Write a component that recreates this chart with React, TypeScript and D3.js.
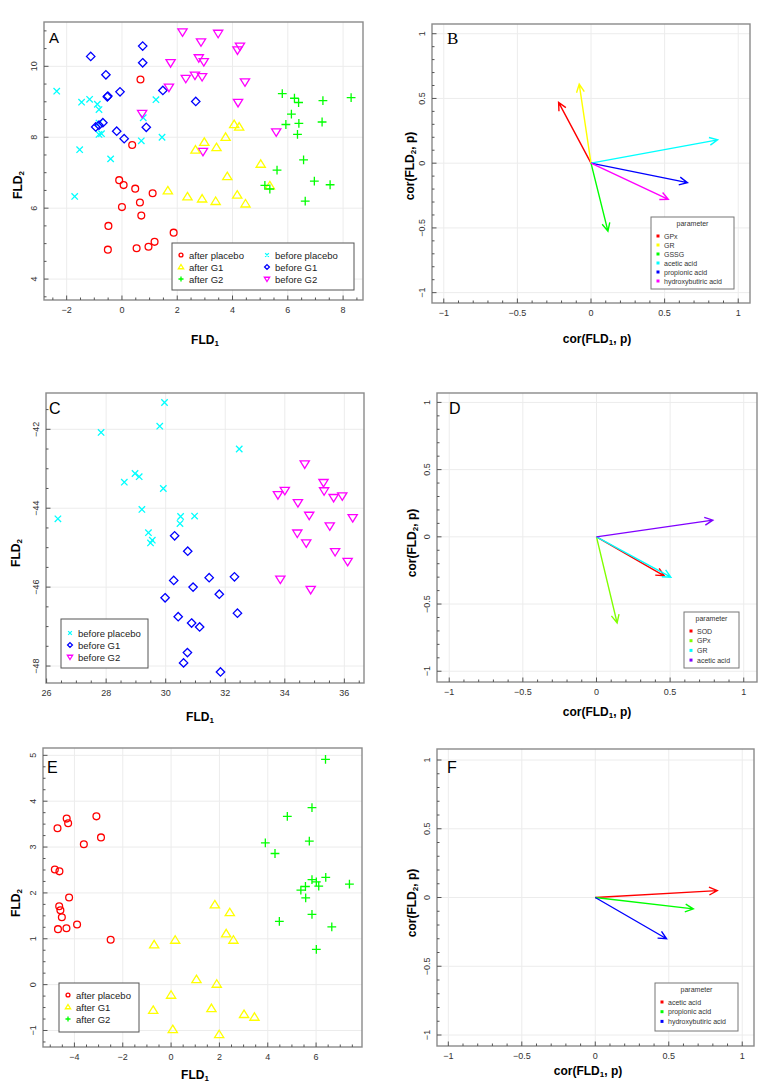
import React from 'react';
import * as d3 from 'd3';

type Pt = [number, number];

// ---- panel A: all six groups ----
const aAfterPlacebo: Pt[] = [
  [0.67, 9.63], [0.37, 7.78], [-0.1, 6.79], [0.06, 6.65], [0.48, 6.55], [1.11, 6.42], [0.65, 6.16],
  [0.0, 6.03], [0.7, 5.79], [-0.49, 5.5], [1.87, 5.31], [1.18, 5.05], [0.96, 4.91], [0.53, 4.87], [-0.51, 4.83],
];
const aAfterG1: Pt[] = [
  [4.06, 8.36], [4.24, 8.29], [3.75, 8.0], [2.98, 7.86], [2.66, 7.64], [3.42, 7.71], [5.02, 7.24], [3.81, 6.89],
  [5.35, 6.63], [1.66, 6.49], [2.37, 6.32], [2.9, 6.26], [3.39, 6.19], [4.17, 6.37], [4.47, 6.12],
];
const aAfterG2: Pt[] = [
  [5.8, 9.23], [6.24, 9.1], [6.39, 8.98], [7.27, 9.03], [8.29, 9.12], [6.13, 8.65], [5.93, 8.36], [6.4, 8.39],
  [7.24, 8.43], [6.35, 8.08], [6.57, 7.36], [5.61, 7.07], [6.96, 6.76], [7.53, 6.66], [5.17, 6.64], [5.35, 6.54], [6.63, 6.2],
];
const aBeforePlacebo: Pt[] = [
  [-2.36, 9.3], [-1.46, 8.99], [-1.17, 9.07], [-0.89, 8.93], [-0.83, 8.78], [-0.83, 8.4], [-0.83, 8.08], [-0.74, 8.1],
  [-1.53, 7.65], [-0.41, 7.39], [-1.71, 6.33], [0.7, 7.9], [1.23, 9.06], [0.77, 8.55], [1.45, 8.0],
];
const aBeforeG1: Pt[] = [
  [-1.13, 10.28], [0.75, 10.57], [0.75, 10.1], [-0.58, 9.76], [-0.53, 9.14], [-0.51, 9.16], [-0.07, 9.28], [1.48, 9.32],
  [2.67, 9.01], [-0.95, 8.29], [-0.83, 8.34], [-0.69, 8.41], [-0.19, 8.17], [0.08, 7.96], [0.88, 8.28],
];
const aBeforeG2: Pt[] = [
  [2.19, 10.97], [3.48, 10.93], [2.86, 10.69], [4.27, 10.57], [4.18, 10.46], [1.76, 10.1], [2.78, 10.24], [2.96, 10.13],
  [2.31, 9.66], [2.64, 9.75], [2.9, 9.71], [4.45, 9.56], [1.7, 9.41], [4.2, 8.98], [0.73, 8.67], [5.58, 8.15], [2.93, 7.6],
];

// ---- panel C: before groups ----
const cBeforePlacebo: Pt[] = [
  [29.96, -41.32], [27.83, -42.08], [29.8, -41.92], [32.47, -42.5], [28.97, -43.12], [29.11, -43.2], [28.61, -43.34],
  [29.92, -43.5], [29.2, -44.03], [26.38, -44.27], [30.5, -44.21], [30.97, -44.2], [30.48, -44.39], [29.42, -44.62],
  [29.55, -44.81], [29.49, -44.88],
];
const cBeforeG1: Pt[] = [
  [30.3, -44.7], [30.74, -45.09], [30.27, -45.83], [31.46, -45.76], [32.31, -45.74], [30.92, -46.0], [31.8, -46.18],
  [29.98, -46.27], [30.42, -46.75], [30.87, -46.91], [31.14, -47.01], [32.41, -46.66], [30.73, -47.66], [30.6, -47.92], [31.84, -48.15],
];
const cBeforeG2: Pt[] = [
  [34.67, -42.88], [35.3, -43.35], [34.0, -43.55], [35.32, -43.56], [33.77, -43.66], [35.64, -43.73], [35.93, -43.69],
  [34.44, -43.86], [34.82, -44.18], [36.28, -44.24], [35.51, -44.45], [34.42, -44.63], [34.72, -44.88], [35.69, -45.1],
  [36.11, -45.35], [33.85, -45.8], [34.87, -46.06],
];

// ---- panel E: after groups ----
const eAfterPlacebo: Pt[] = [
  [-4.32, 3.62], [-4.26, 3.52], [-4.7, 3.41], [-3.09, 3.67], [-2.9, 3.21], [-3.61, 3.06], [-4.81, 2.51], [-4.62, 2.47],
  [-4.22, 1.9], [-4.63, 1.71], [-4.58, 1.62], [-4.52, 1.47], [-3.89, 1.31], [-4.33, 1.23], [-4.68, 1.21], [-2.5, 0.98],
];
const eAfterG1: Pt[] = [
  [1.81, 1.74], [2.43, 1.57], [2.28, 1.11], [2.58, 0.97], [0.17, 0.97], [-0.7, 0.87], [1.05, 0.11], [1.89, 0.01],
  [0.0, -0.23], [1.67, -0.52], [-0.74, -0.56], [3.02, -0.65], [3.45, -0.71], [0.07, -0.98], [1.99, -1.09],
];
const eAfterG2: Pt[] = [
  [6.39, 4.91], [5.83, 3.86], [4.81, 3.67], [5.72, 3.13], [3.9, 3.09], [4.3, 2.86], [6.4, 2.34], [5.83, 2.29],
  [6.01, 2.24], [6.11, 2.15], [7.38, 2.19], [5.56, 2.14], [5.37, 2.06], [5.57, 1.89], [5.83, 1.53], [4.48, 1.38],
  [6.65, 1.26], [6.01, 0.77],
];

// ---- correlation vectors ----
const paramsB = ['GPx', 'GR', 'GSSG', 'acetic acid', 'propionic acid', 'hydroxybutiric acid'];
const vecB: Pt[] = [[-0.22, 0.47], [-0.08, 0.61], [0.115, -0.525], [0.86, 0.18], [0.655, -0.15], [0.525, -0.28]];
const paramsD = ['SOD', 'GPx', 'GR', 'acetic acid'];
const vecD: Pt[] = [[0.46, -0.29], [0.14, -0.64], [0.505, -0.3], [0.79, 0.124]];
const paramsF = ['acetic acid', 'propionic acid', 'hydroxybutiric acid'];
const vecF: Pt[] = [[0.83, 0.05], [0.667, -0.083], [0.485, -0.3]];

const rainbow6 = ['#FF0000', '#FFFF00', '#00FF00', '#00FFFF', '#0000FF', '#FF00FF'];
const rainbow4 = ['#FF0000', '#80FF00', '#00FFFF', '#8000FF'];
const rainbow3 = ['#FF0000', '#00FF00', '#0000FF'];

const corTicks = [-1, -0.5, 0, 0.5, 1];

type Shape = 'circle' | 'tri' | 'plus' | 'cross' | 'diamond' | 'tridown';
const groupStyle: Record<string, { shape: Shape; color: string }> = {
  'after placebo': { shape: 'circle', color: '#FF0000' },
  'after G1': { shape: 'tri', color: '#FFFF00' },
  'after G2': { shape: 'plus', color: '#00FF00' },
  'before placebo': { shape: 'cross', color: '#00FFFF' },
  'before G1': { shape: 'diamond', color: '#0000FF' },
  'before G2': { shape: 'tridown', color: '#FF00FF' },
};

const SANS = '"Liberation Sans", Arial, sans-serif';

function marker(shape: Shape, x: number, y: number, s: number, color: string, key?: any) {
  const p = { fill: 'none', stroke: color, strokeWidth: 1.3 };
  if (shape === 'circle') return <circle key={key} cx={x} cy={y} r={s * 0.85} {...p} />;
  if (shape === 'tri') {
    const h = s * 1.1;
    return <path key={key} d={`M${x},${y - h}L${x + h * 1.05},${y + h * 0.7}L${x - h * 1.05},${y + h * 0.7}Z`} {...p} />;
  }
  if (shape === 'tridown') {
    const h = s * 1.1;
    return <path key={key} d={`M${x},${y + h}L${x + h * 1.05},${y - h * 0.7}L${x - h * 1.05},${y - h * 0.7}Z`} {...p} />;
  }
  if (shape === 'plus') return <path key={key} d={`M${x - s * 1.1},${y}H${x + s * 1.1}M${x},${y - s * 1.1}V${y + s * 1.1}`} {...p} />;
  if (shape === 'cross') {
    const a = s * 0.8;
    return <path key={key} d={`M${x - a},${y - a}L${x + a},${y + a}M${x - a},${y + a}L${x + a},${y - a}`} {...p} />;
  }
  const d = s * 1.05;
  return <path key={key} d={`M${x},${y - d}L${x + d},${y}L${x},${y + d}L${x - d},${y}Z`} {...p} />;
}

type Box = { l: number; t: number; r: number; b: number };
type PanelProps = {
  box: Box;
  xDom: [number, number];
  yDom: [number, number];
  xMajor: number[];
  yMajor: number[];
  xMinor: number;
  yMinor: number;
  letter: string;
  letterPos: [number, number];
  letterFont: string;
  letterSize: number;
  xTitle: React.ReactNode;
  xTitlePos: [number, number];
  yTitle: React.ReactNode;
  yTitlePos: [number, number];
  children: (x: d3.ScaleLinear<number, number>, y: d3.ScaleLinear<number, number>) => React.ReactNode;
};

const fmt = (v: number) => String(v).replace('-', '\u2212');

function Panel(pp: PanelProps) {
  const { box } = pp;
  const x = d3.scaleLinear().domain(pp.xDom).range([box.l, box.r]);
  const y = d3.scaleLinear().domain(pp.yDom).range([box.b, box.t]);
  const minors = (dom: [number, number], step: number) =>
    d3.range(Math.ceil(dom[0] / step) * step, dom[1] + 1e-9, step).map((v) => +v.toFixed(4));
  const xm = minors(pp.xDom, pp.xMinor);
  const ym = minors(pp.yDom, pp.yMinor);
  return (
    <g>
      {pp.xMajor.map((v) => (
        <line key={'gx' + v} x1={x(v)} x2={x(v)} y1={box.t} y2={box.b} stroke="#ececec" strokeWidth={1} />
      ))}
      {pp.yMajor.map((v) => (
        <line key={'gy' + v} x1={box.l} x2={box.r} y1={y(v)} y2={y(v)} stroke="#ececec" strokeWidth={1} />
      ))}
      {pp.children(x, y)}
      <rect x={box.l} y={box.t} width={box.r - box.l} height={box.b - box.t} fill="none" stroke="#8a8a8a" strokeWidth={1.4} />
      {xm.map((v) => {
        const major = pp.xMajor.some((m) => Math.abs(m - v) < 1e-6);
        return <line key={'tx' + v} x1={x(v)} x2={x(v)} y1={box.b} y2={box.b - (major ? 4.5 : 2.5)} stroke="#555" strokeWidth={1} />;
      })}
      {ym.map((v) => {
        const major = pp.yMajor.some((m) => Math.abs(m - v) < 1e-6);
        return <line key={'ty' + v} x1={box.l} x2={box.l + (major ? 4.5 : 2.5)} y1={y(v)} y2={y(v)} stroke="#555" strokeWidth={1} />;
      })}
      {pp.xMajor.map((v) => (
        <text key={'lx' + v} x={x(v)} y={box.b + 13} textAnchor="middle" fontSize={9} fill="#333" fontFamily={SANS}>
          {fmt(v)}
        </text>
      ))}
      {pp.yMajor.map((v) => (
        <text
          key={'ly' + v}
          transform={`translate(${box.l - 10},${y(v)}) rotate(-90)`}
          textAnchor="middle"
          dominantBaseline="central"
          fontSize={9}
          fill="#333"
          fontFamily={SANS}
        >
          {fmt(v)}
        </text>
      ))}
      <text x={pp.letterPos[0]} y={pp.letterPos[1]} fontSize={pp.letterSize} fontFamily={pp.letterFont} fill="#000">
        {pp.letter}
      </text>
      <text
        x={pp.xTitlePos[0]}
        y={pp.xTitlePos[1]}
        textAnchor="middle"
        dominantBaseline="central"
        fontSize={12}
        fontWeight="bold"
        fontFamily={SANS}
      >
        {pp.xTitle}
      </text>
      <text
        transform={`translate(${pp.yTitlePos[0]},${pp.yTitlePos[1]}) rotate(-90)`}
        textAnchor="middle"
        dominantBaseline="central"
        fontSize={12}
        fontWeight="bold"
        fontFamily={SANS}
      >
        {pp.yTitle}
      </text>
    </g>
  );
}

const sub = (s: string) => (
  <tspan fontSize={8} dy={3}>
    {s}
  </tspan>
);
const fld = (n: string) => (
  <>
    FLD{sub(n)}
  </>
);
const corT = (n: string) => (
  <>
    cor(FLD{sub(n)}
    <tspan dy={-3}>, p)</tspan>
  </>
);

function Scatter(groups: [string, Pt[]][], x: any, y: any) {
  return groups.map(([name, pts]) =>
    pts.map((p, i) => marker(groupStyle[name].shape, x(p[0]), y(p[1]), 4, groupStyle[name].color, name + i)),
  );
}

function Arrows(vecs: Pt[], colors: string[], x: any, y: any) {
  const x0 = x(0);
  const y0 = y(0);
  return vecs.map((v, i) => {
    const x1 = x(v[0]);
    const y1 = y(v[1]);
    const ang = Math.atan2(y1 - y0, x1 - x0);
    const L = 9;
    const h = 0.45;
    const ax = x1 - L * Math.cos(ang - h);
    const ay = y1 - L * Math.sin(ang - h);
    const bx = x1 - L * Math.cos(ang + h);
    const by = y1 - L * Math.sin(ang + h);
    return (
      <path
        key={'ar' + i}
        d={`M${x0},${y0}L${x1},${y1}M${ax},${ay}L${x1},${y1}L${bx},${by}`}
        fill="none"
        stroke={colors[i]}
        strokeWidth={1.4}
      />
    );
  });
}

function ParamLegend(box: Box, names: string[], colors: string[], rowStep: number) {
  const cx = (box.l + box.r) / 2;
  return (
    <g fontFamily={SANS}>
      <rect x={box.l} y={box.t} width={box.r - box.l} height={box.b - box.t} fill="#fff" stroke="#777" strokeWidth={1} />
      <text x={cx} y={box.t + 6.5} textAnchor="middle" dominantBaseline="central" fontSize={7} fill="#333">
        parameter
      </text>
      {names.map((n, i) => (
        <g key={n}>
          <rect x={box.l + 5.5} y={box.t + 17.5 + i * rowStep} width={3} height={3} fill={colors[i]} />
          <text x={box.l + 13} y={box.t + 19 + i * rowStep} dominantBaseline="central" fontSize={7} fill="#333">
            {n}
          </text>
        </g>
      ))}
    </g>
  );
}

function GroupLegend(box: Box, cols: string[][], colX: number[], rowY: number[]) {
  return (
    <g fontFamily={SANS}>
      <rect x={box.l} y={box.t} width={box.r - box.l} height={box.b - box.t} fill="#fff" stroke="#555" strokeWidth={1} />
      {cols.map((col, ci) =>
        col.map((n, ri) => (
          <g key={n}>
            {marker(groupStyle[n].shape, colX[ci], rowY[ri], 2.3, groupStyle[n].color)}
            <text x={colX[ci] + 8} y={rowY[ri]} dominantBaseline="central" fontSize={9.5} fill="#222">
              {n}
            </text>
          </g>
        )),
      )}
    </g>
  );
}

export default function App() {
  const sansLetter = '"Liberation Sans", Arial, sans-serif';
  const corProps = {
    xDom: [-1.08, 1.08] as [number, number],
    yDom: [-1.08, 1.075] as [number, number],
    xMajor: corTicks,
    yMajor: corTicks,
    xMinor: 0.1,
    yMinor: 0.1,
    xTitle: corT('1'),
    yTitle: corT('2'),
  };
  return (
    <svg width={765} height={1089} style={{ position: 'absolute', left: 0, top: 0, background: '#fff' }}>
      <Panel
        box={{ l: 44, t: 22, r: 363, b: 300 }}
        xDom={[-2.82, 8.72]}
        yDom={[3.41, 11.25]}
        xMajor={[-2, 0, 2, 4, 6, 8]}
        yMajor={[4, 6, 8, 10]}
        xMinor={0.5}
        yMinor={0.5}
        letter="A"
        letterPos={[49, 43]}
        letterFont={sansLetter}
        letterSize={15}
        xTitle={fld('1')}
        xTitlePos={[205, 340]}
        yTitle={fld('2')}
        yTitlePos={[18, 185]}
      >
        {(x, y) => (
          <>
            {Scatter(
              [
                ['before placebo', aBeforePlacebo],
                ['before G1', aBeforeG1],
                ['before G2', aBeforeG2],
                ['after placebo', aAfterPlacebo],
                ['after G1', aAfterG1],
                ['after G2', aAfterG2],
              ],
              x,
              y,
            )}
            {GroupLegend(
              { l: 172, t: 243, r: 354, b: 290 },
              [
                ['after placebo', 'after G1', 'after G2'],
                ['before placebo', 'before G1', 'before G2'],
              ],
              [181, 267],
              [255, 267, 279],
            )}
          </>
        )}
      </Panel>

      <Panel
        {...corProps}
        box={{ l: 432, t: 24, r: 750, b: 303 }}
        letter="B"
        letterPos={[447, 44]}
        letterFont='"Liberation Serif", "Times New Roman", serif'
        letterSize={17}
        xTitlePos={[597, 339]}
        yTitlePos={[410, 166]}
      >
        {(x, y) => (
          <>
            {Arrows(vecB, rainbow6, x, y)}
            {ParamLegend({ l: 651, t: 217, r: 734, b: 289 }, paramsB, rainbow6, 9)}
          </>
        )}
      </Panel>

      <Panel
        box={{ l: 46, t: 393, r: 364, b: 683 }}
        xDom={[25.98, 36.66]}
        yDom={[-48.43, -41.08]}
        xMajor={[26, 28, 30, 32, 34, 36]}
        yMajor={[-48, -46, -44, -42]}
        xMinor={0.5}
        yMinor={0.5}
        letter="C"
        letterPos={[49, 414]}
        letterFont={sansLetter}
        letterSize={16}
        xTitle={fld('1')}
        xTitlePos={[200, 717]}
        yTitle={fld('2')}
        yTitlePos={[16, 553]}
      >
        {(x, y) => (
          <>
            {Scatter(
              [
                ['before placebo', cBeforePlacebo],
                ['before G1', cBeforeG1],
                ['before G2', cBeforeG2],
              ],
              x,
              y,
            )}
            {GroupLegend(
              { l: 61, t: 619, r: 148, b: 668 },
              [['before placebo', 'before G1', 'before G2']],
              [70],
              [633, 645, 657],
            )}
          </>
        )}
      </Panel>

      <Panel
        {...corProps}
        box={{ l: 437, t: 393, r: 757, b: 682 }}
        xDom={[-1.083, 1.09]}
        yDom={[-1.08, 1.07]}
        letter="D"
        letterPos={[449, 414]}
        letterFont={sansLetter}
        letterSize={16}
        xTitlePos={[597, 712]}
        yTitlePos={[412, 543]}
      >
        {(x, y) => (
          <>
            {Arrows(vecD, rainbow4, x, y)}
            {ParamLegend({ l: 684, t: 612, r: 739, b: 668 }, paramsD, rainbow4, 9.7)}
          </>
        )}
      </Panel>

      <Panel
        box={{ l: 43, t: 748, r: 362, b: 1047 }}
        xDom={[-5.3, 7.9]}
        yDom={[-1.36, 5.16]}
        xMajor={[-4, -2, 0, 2, 4, 6]}
        yMajor={[-1, 0, 1, 2, 3, 4, 5]}
        xMinor={0.5}
        yMinor={0.25}
        letter="E"
        letterPos={[47, 773]}
        letterFont={sansLetter}
        letterSize={16}
        xTitle={fld('1')}
        xTitlePos={[195, 1075]}
        yTitle={fld('2')}
        yTitlePos={[16, 903]}
      >
        {(x, y) => (
          <>
            {Scatter(
              [
                ['after placebo', eAfterPlacebo],
                ['after G1', eAfterG1],
                ['after G2', eAfterG2],
              ],
              x,
              y,
            )}
            {GroupLegend(
              { l: 59, t: 983, r: 139, b: 1032 },
              [['after placebo', 'after G1', 'after G2']],
              [68],
              [995, 1007, 1019],
            )}
          </>
        )}
      </Panel>

      <Panel
        {...corProps}
        box={{ l: 437, t: 749, r: 754, b: 1046 }}
        xDom={[-1.077, 1.08]}
        yDom={[-1.08, 1.08]}
        letter="F"
        letterPos={[447, 773]}
        letterFont={sansLetter}
        letterSize={16}
        xTitlePos={[588, 1071]}
        yTitlePos={[412, 903]}
      >
        {(x, y) => (
          <>
            {Arrows(vecF, rainbow3, x, y)}
            {ParamLegend({ l: 655, t: 983, r: 738, b: 1031 }, paramsF, rainbow3, 9.7)}
          </>
        )}
      </Panel>
    </svg>
  );
}
